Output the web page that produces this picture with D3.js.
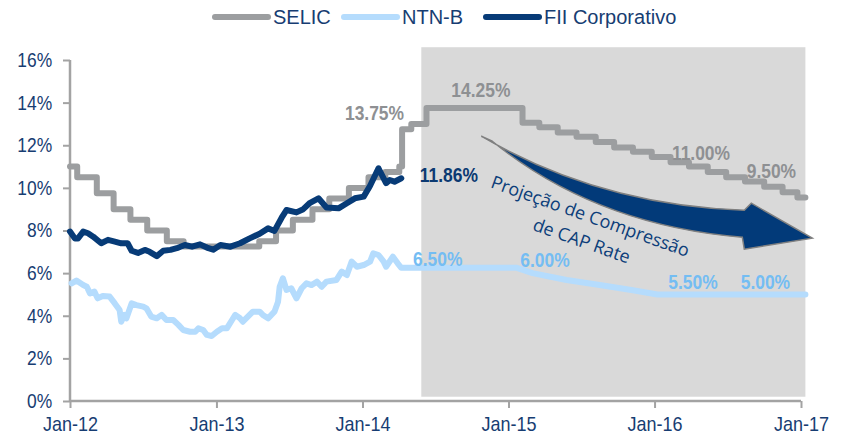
<!DOCTYPE html>
<html><head><meta charset="utf-8">
<script src="https://cdn.jsdelivr.net/npm/d3@7/dist/d3.min.js"></script>
<style>
body{margin:0;background:#fff;}
svg{display:block;}
.nar{font-family:"Liberation Sans",Arial,sans-serif;}
</style></head><body>
<svg id="chart" width="842" height="437"></svg>
<script>
// ---------- DATA ----------
const seriesNames = ["SELIC", "NTN-B", "FII Corporativo"];
const seriesColors = ["#9C9EA0", "#B5DCFD", "#073B77"];
const xTickLabels = ["Jan-12", "Jan-13", "Jan-14", "Jan-15", "Jan-16", "Jan-17"];
const xTickDates = ["2012-01-01", "2013-01-01", "2014-01-01", "2015-01-01", "2016-01-01", "2017-01-01"];
const yTicks = [0, 2, 4, 6, 8, 10, 12, 14, 16];
const projectionPeriod = ["2014-05-28", "2017-01-12"];

const selic = [
  ["2012-01-01", 11.0], ["2012-01-19", 10.5], ["2012-03-08", 9.75], ["2012-04-19", 9.0],
  ["2012-05-31", 8.5], ["2012-07-12", 8.0], ["2012-08-30", 7.5], ["2012-10-11", 7.25],
  ["2013-04-18", 7.5], ["2013-05-30", 8.0], ["2013-07-11", 8.5], ["2013-08-29", 9.0],
  ["2013-10-10", 9.5], ["2013-11-28", 10.0], ["2014-01-16", 10.5], ["2014-02-27", 10.75],
  ["2014-04-03", 11.0], ["2014-04-10", 12.75], ["2014-05-03", 13.0], ["2014-06-10", 13.75],
  ["2015-02-05", 13.05], ["2015-03-19", 12.85], ["2015-05-04", 12.6], ["2015-06-20", 12.4],
  ["2015-08-07", 12.15], ["2015-09-22", 11.9], ["2015-11-08", 11.7], ["2015-12-25", 11.45],
  ["2016-02-10", 11.2], ["2016-03-27", 11.0], ["2016-05-13", 10.75], ["2016-06-28", 10.5],
  ["2016-08-14", 10.3], ["2016-10-01", 10.05], ["2016-11-16", 9.8], ["2016-12-23", 9.55],
  ["2017-01-12", 9.55]
];

const ntnb = [
  ["2012-01-05", 5.52], ["2012-01-17", 5.65], ["2012-02-03", 5.44], ["2012-02-12", 5.36],
  ["2012-02-20", 5.05], ["2012-03-02", 5.13], ["2012-03-10", 4.82], ["2012-03-23", 4.93],
  ["2012-04-09", 4.9], ["2012-04-22", 4.58], ["2012-05-04", 4.27], ["2012-05-08", 3.72],
  ["2012-05-16", 4.04], ["2012-05-21", 3.88], ["2012-06-03", 4.58], ["2012-06-15", 4.5],
  ["2012-07-02", 4.43], ["2012-07-10", 4.35], ["2012-07-22", 3.96], ["2012-08-05", 3.88],
  ["2012-08-17", 4.04], ["2012-08-29", 3.8], ["2012-09-15", 3.8], ["2012-09-28", 3.57],
  ["2012-10-10", 3.33], ["2012-10-27", 3.25], ["2012-11-09", 3.25], ["2012-11-17", 3.41],
  ["2012-11-29", 3.33], ["2012-12-08", 3.1], ["2012-12-20", 3.05], ["2013-01-02", 3.25],
  ["2013-01-15", 3.41], ["2013-01-27", 3.41], ["2013-02-09", 3.8], ["2013-02-17", 4.04],
  ["2013-03-01", 3.88], ["2013-03-08", 3.72], ["2013-04-02", 4.19], ["2013-04-19", 4.19],
  ["2013-04-27", 4.04], ["2013-05-10", 3.88], ["2013-05-26", 4.19], ["2013-06-04", 4.66],
  ["2013-06-08", 5.36], ["2013-06-16", 5.76], ["2013-06-25", 5.21], ["2013-07-07", 5.29],
  ["2013-07-20", 4.82], ["2013-08-02", 5.29], ["2013-08-14", 5.52], ["2013-08-27", 5.44],
  ["2013-09-09", 5.6], ["2013-09-21", 5.36], ["2013-10-03", 5.6], ["2013-10-28", 5.68],
  ["2013-11-10", 6.07], ["2013-11-23", 5.91], ["2013-12-05", 6.54], ["2013-12-18", 6.3],
  ["2014-01-04", 6.38], ["2014-01-20", 6.54], ["2014-01-28", 6.93], ["2014-02-10", 6.85],
  ["2014-02-23", 6.54], ["2014-03-01", 6.3], ["2014-03-18", 6.77], ["2014-03-30", 6.46],
  ["2014-04-08", 6.25], ["2015-01-22", 6.25], ["2015-03-02", 6.0], ["2015-05-26", 5.68],
  ["2015-08-17", 5.44], ["2015-11-08", 5.2], ["2016-01-08", 5.0], ["2017-01-12", 5.0]
];

const fii = [
  ["2012-01-01", 7.95], ["2012-01-13", 7.63], ["2012-01-21", 7.63], ["2012-02-03", 7.95],
  ["2012-02-15", 7.87], ["2012-02-28", 7.71], ["2012-03-19", 7.4], ["2012-04-05", 7.56],
  ["2012-04-22", 7.48], ["2012-05-08", 7.4], ["2012-05-24", 7.4], ["2012-06-03", 7.05],
  ["2012-06-19", 6.95], ["2012-07-06", 7.09], ["2012-07-18", 7.0], ["2012-08-05", 6.8],
  ["2012-08-21", 7.05], ["2012-09-08", 7.09], ["2012-09-24", 7.17], ["2012-10-14", 7.32],
  ["2012-11-01", 7.24], ["2012-11-21", 7.35], ["2012-12-08", 7.2], ["2012-12-24", 7.1],
  ["2013-01-11", 7.32], ["2013-02-05", 7.24], ["2013-03-01", 7.4], ["2013-03-25", 7.63],
  ["2013-04-19", 7.85], ["2013-05-10", 8.1], ["2013-05-26", 7.98], ["2013-06-13", 8.6],
  ["2013-06-25", 8.96], ["2013-07-20", 8.85], ["2013-08-06", 9.0], ["2013-08-23", 9.3],
  ["2013-09-13", 9.51], ["2013-10-03", 9.08], ["2013-11-02", 9.04], ["2013-11-23", 9.28],
  ["2013-12-13", 9.51], ["2014-01-04", 9.59], ["2014-01-20", 10.1], ["2014-02-10", 10.92],
  ["2014-03-01", 10.22], ["2014-03-10", 10.37], ["2014-03-22", 10.29], ["2014-04-08", 10.45]
];

// value labels: [text, series index, anchor date, anchor value]
const valueLabels = [
  ["13.75%", 0, "2014-01-31", 13.19], ["14.25%", 0, "2014-10-24", 14.27],
  ["11.00%", 0, "2016-04-26", 11.31], ["9.50%", 0, "2016-10-19", 10.46],
  ["11.86%", 2, "2014-08-05", 10.28],
  ["6.50%", 1, "2014-07-08", 6.34], ["6.00%", 1, "2015-04-02", 6.27],
  ["5.50%", 1, "2016-04-06", 5.24], ["5.00%", 1, "2016-10-04", 5.24]
];
const labelColors = ["#8E9093", "#74BDF3", "#0B3A72"];
const arrowText = ["Projeção de Compressão", "de CAP Rate"];

// ---------- CHART ----------
const parse = d3.timeParse("%Y-%m-%d");
const svg = d3.select("#chart");
const x = d3.scaleTime().domain([parse("2012-01-01"), parse("2017-01-01")]).range([70, 801]);
const y = d3.scaleLinear().domain([0, 16]).range([401, 60]);
const axisColor = "#A3A3A3";
const textColor = "#173D72";

// projection shaded region
svg.append("rect")
  .attr("x", x(parse(projectionPeriod[0])))
  .attr("y", y(16.6))
  .attr("width", x(parse(projectionPeriod[1])) - x(parse(projectionPeriod[0])))
  .attr("height", y(0.2) - y(16.6))
  .attr("fill", "#D9D9D9");

// axes
const yAxis = d3.axisLeft(y).tickValues(yTicks).tickFormat(d => d + "%").tickSize(7).tickPadding(11);
const gy = svg.append("g").attr("transform", "translate(70,0)").call(yAxis);
const xAxis = d3.axisBottom(x).tickValues(xTickDates.map(parse))
  .tickFormat((d, i) => xTickLabels[i]).tickSize(7).tickPadding(9);
const gx = svg.append("g").attr("transform", "translate(0,401)").call(xAxis);
[gx, gy].forEach(g => {
  g.select(".domain").attr("stroke", axisColor).attr("stroke-width", 2.5);
  g.selectAll(".tick line").attr("stroke", axisColor).attr("stroke-width", 2);
  g.selectAll(".tick text").attr("class", "nar").attr("fill", textColor)
    .attr("font-size", 20);
});
// condensed look of the reference tick labels
gy.selectAll(".tick text").attr("x", -20.5).attr("transform", "scale(0.87,1)");
gx.selectAll(".tick text").attr("transform", "scale(0.9,1)");
gy.select(".domain").attr("d", "M0," + y(16) + "V" + y(0));
gx.select(".domain").attr("d", "M" + x(parse(xTickDates[0])) + ",0H" + x(parse(xTickDates[5])));

// lines
const line = d3.line().x(d => x(parse(d[0]))).y(d => y(d[1]));
const stepLine = d3.line().x(d => x(parse(d[0]))).y(d => y(d[1])).curve(d3.curveStepAfter);
const seriesData = [selic, ntnb, fii];
[0, 1, 2].forEach(i => {
  svg.append("path").datum(seriesData[i])
    .attr("d", i === 0 ? stepLine : line)
    .attr("fill", "none").attr("stroke", seriesColors[i])
    .attr("stroke-width", 6).attr("stroke-linejoin", "round").attr("stroke-linecap", "round");
});

// value labels
svg.selectAll("text.vl").data(valueLabels).enter().append("text")
  .attr("class", "nar vl")
  .attr("transform", d => "translate(" + x(parse(d[2])) + "," + y(d[3]) + ") scale(0.83,1)")
  .attr("text-anchor", "middle").attr("font-size", 21).attr("font-weight", "bold")
  .attr("fill", d => labelColors[d[1]]).text(d => d[0]);

// arrow (offsets relative to the projection region's top-left)
const ox = x(parse(projectionPeriod[0])), oy = y(16.6);
const P = (a, b) => (ox + a) + "," + (oy + b);
const arrowPath = "M" + P(60, 89) + "Q" + P(178, 158) + " " + P(323, 163) +
  "L" + P(330, 156) + "L" + P(391, 191) + "L" + P(323, 202) + "L" + P(321, 190) +
  "Q" + P(174, 178) + " " + P(71, 94) + "Z";
svg.append("path").attr("d", arrowPath).attr("fill", "#023A79")
  .attr("stroke", "#808080").attr("stroke-width", 1.5).attr("stroke-linejoin", "miter");

const at = svg.append("g").attr("transform", "translate(" + (ox + 167) + "," + (oy + 175) + ") rotate(19.5)");
at.selectAll("text").data(arrowText).enter().append("text")
  .attr("x", 0).attr("y", (d, i) => i * 26)
  .attr("text-anchor", "middle")
  .attr("font-family", "'Open Sans', 'Noto Sans', sans-serif")
  .attr("font-size", 18).attr("fill", "#0C3E7A").text(d => d);

// legend
const legendX = [215, 344, 486];
const lg = svg.append("g");
seriesNames.forEach((n, i) => {
  lg.append("line").attr("x1", legendX[i]).attr("x2", legendX[i] + 53)
    .attr("y1", 17).attr("y2", 17).attr("stroke", seriesColors[i])
    .attr("stroke-width", 6).attr("stroke-linecap", "round");
  lg.append("text").attr("class", "nar").attr("x", legendX[i] + 58).attr("y", 24)
    .attr("font-size", 20).attr("fill", textColor).text(n);
});
</script>
</body></html>
